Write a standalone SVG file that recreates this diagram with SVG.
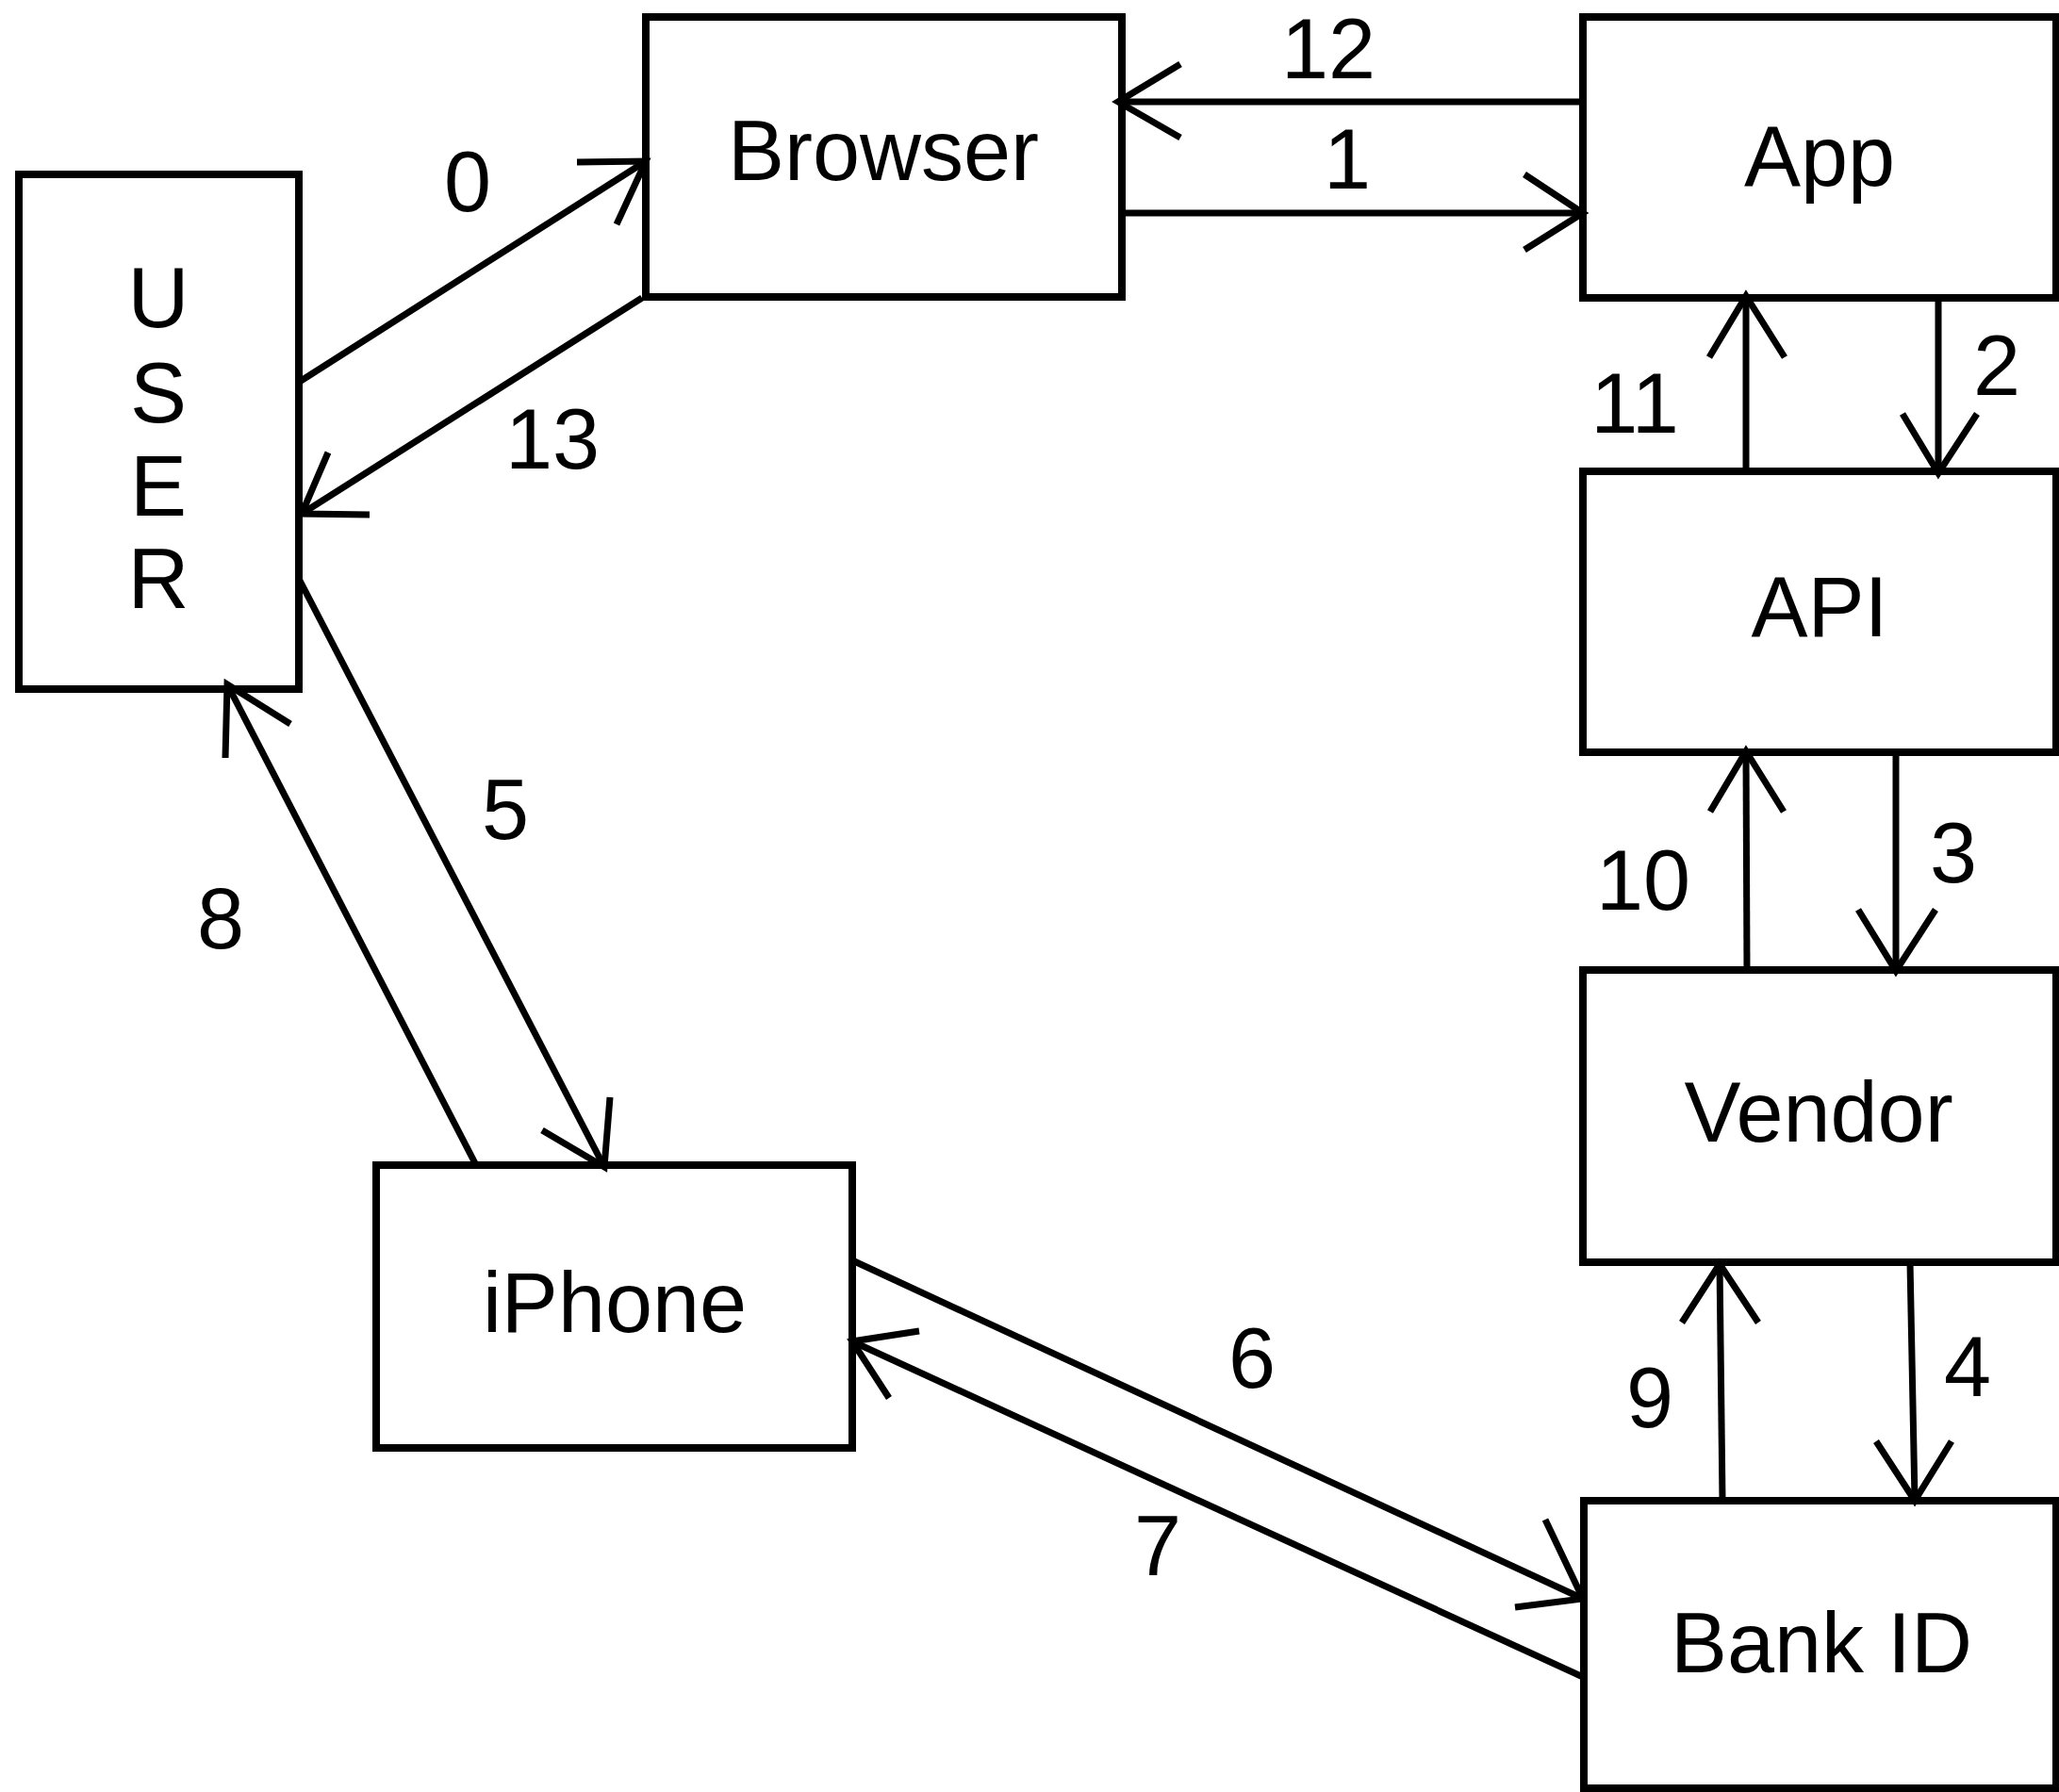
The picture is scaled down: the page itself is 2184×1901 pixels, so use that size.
<svg xmlns="http://www.w3.org/2000/svg" width="2184" height="1901" viewBox="0 0 2184 1901">
<style>
.box{fill:#fff;stroke:#000;stroke-width:8}
.lbl{font-family:"Liberation Sans",Arial,sans-serif;font-size:90px;fill:#000;text-anchor:middle}
.ln{fill:none;stroke:#000;stroke-width:7}
.hd{fill:none;stroke:#000;stroke-width:7;stroke-linejoin:miter;stroke-linecap:butt}
</style>
<rect width="2184" height="1901" fill="#fff"/>
<g id="node-user">
<rect class="box" x="20" y="185" width="297" height="546"/>
<text class="lbl" x="168" y="347">U</text>
<text class="lbl" x="168" y="448">S</text>
<text class="lbl" x="168" y="547">E</text>
<text class="lbl" x="168" y="645">R</text>
</g>
<g id="node-browser">
<rect class="box" x="685" y="18" width="505" height="297"/>
<text class="lbl" x="937" y="191">Browser</text>
</g>
<g id="node-app">
<rect class="box" x="1679" y="18" width="502" height="298"/>
<text class="lbl" x="1930" y="197">App</text>
</g>
<g id="node-api">
<rect class="box" x="1679" y="500" width="502" height="298"/>
<text class="lbl" x="1930" y="675">API</text>
</g>
<g id="node-vendor">
<rect class="box" x="1679" y="1029" width="502" height="310"/>
<text class="lbl" x="1929" y="1211">Vendor</text>
</g>
<g id="node-bankid">
<rect class="box" x="1680" y="1592" width="501" height="305"/>
<text class="lbl" x="1932" y="1774">Bank ID</text>
</g>
<g id="node-iphone">
<rect class="box" x="399" y="1236" width="505" height="300"/>
<text class="lbl" x="652" y="1413">iPhone</text>
</g>
<g id="connectors">
<line class="ln" x1="316" y1="406" x2="685" y2="171"/>
<polyline class="hd" points="612,172 685,171 654,238"/>
<line class="ln" x1="1190" y1="226" x2="1679" y2="226"/>
<polyline class="hd" points="1617,185 1679,226 1617,265"/>
<line class="ln" x1="2056" y1="316" x2="2056" y2="500"/>
<polyline class="hd" points="2018,439 2056,502 2097,439"/>
<line class="ln" x1="2011" y1="798" x2="2011" y2="1029"/>
<polyline class="hd" points="1971,965 2011,1030 2053,965"/>
<line class="ln" x1="2026" y1="1339" x2="2031" y2="1592"/>
<polyline class="hd" points="1990,1529 2031,1592 2070,1529"/>
<line class="ln" x1="316" y1="612" x2="641" y2="1238"/>
<polyline class="hd" points="575,1199 641,1238 647,1164"/>
<line class="ln" x1="904" y1="1337" x2="1679" y2="1696"/>
<polyline class="hd" points="1639,1612 1679,1696 1607,1705"/>
<line class="ln" x1="1679" y1="1779" x2="904" y2="1423"/>
<polyline class="hd" points="975,1412 904,1423 943,1483"/>
<line class="ln" x1="505" y1="1236" x2="241" y2="726"/>
<polyline class="hd" points="308,768 241,726 239,804"/>
<line class="ln" x1="1827" y1="1592" x2="1824" y2="1339"/>
<polyline class="hd" points="1784,1403 1824,1341 1865,1403"/>
<line class="ln" x1="1853" y1="1029" x2="1852" y2="798"/>
<polyline class="hd" points="1814,861 1852,797 1892,861"/>
<line class="ln" x1="1852" y1="500" x2="1852" y2="316"/>
<polyline class="hd" points="1813,379 1852,314 1893,379"/>
<line class="ln" x1="1679" y1="108" x2="1186" y2="108"/>
<polyline class="hd" points="1252,68 1186,108 1252,146"/>
<line class="ln" x1="681" y1="316" x2="320" y2="545"/>
<polyline class="hd" points="392,546 320,545 348,480"/>
<text class="lbl" x="496" y="224">0</text>
<text class="lbl" x="1429" y="200">1</text>
<text class="lbl" x="2118" y="419">2</text>
<text class="lbl" x="2072" y="936">3</text>
<text class="lbl" x="2087" y="1481">4</text>
<text class="lbl" x="536" y="890">5</text>
<text class="lbl" x="1328" y="1472">6</text>
<text class="lbl" x="1228" y="1671">7</text>
<text class="lbl" x="234" y="1006">8</text>
<text class="lbl" x="1750" y="1514">9</text>
<text class="lbl" x="1743" y="965">10</text>
<text class="lbl" x="1734" y="459">11</text>
<text class="lbl" x="1409" y="83">12</text>
<text class="lbl" x="586" y="497">13</text>
</g>
</svg>
